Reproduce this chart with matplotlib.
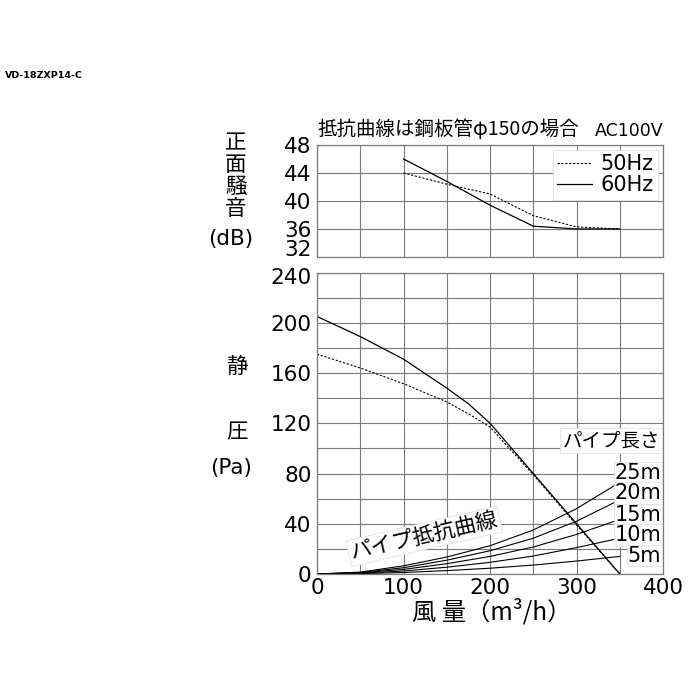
"""
Fan performance chart VD-18ZXP14-C: noise (top) and static pressure (bottom)
versus air volume, with pipe resistance curves.
"""

import matplotlib
matplotlib.use("Agg")
import matplotlib.pyplot as plt
from matplotlib.transforms import ScaledTranslation

plt.rcParams["font.family"] = ["DejaVu Sans", "Noto Sans CJK JP"]

# ── Data ─────────────────────────────────────────────────────────────────────
noise_x = [100, 150, 200, 250, 300, 350]
noise_50hz = [44.0, 42.4, 41.0, 37.9, 36.3, 36.0]
noise_60hz = [46.0, 42.8, 39.4, 36.4, 36.0, 36.0]

pq_x = [0, 50, 100, 150, 175, 200, 250, 300, 350]
pq_50hz = [175, 164, 151.5, 137, 127.5, 117, 79, 39, 0]
pq_60hz = [205, 189, 171, 148, 135.5, 120, 80, 40, 0]

pipe_x = [0, 50, 100, 150, 200, 250, 300, 350]
pipe_curves = {
    "25m": [0, 1.5, 6.5, 13.5, 22.5, 35, 52, 73],
    "20m": [0, 1.2, 5.0, 11.0, 18.5, 28.5, 42, 59],
    "15m": [0, 0.9, 3.7, 8.2, 14.0, 21.5, 31.5, 43.5],
    "10m": [0, 0.6, 2.4, 5.4, 9.3, 14.3, 21, 28.5],
    "5m": [0, 0.3, 1.2, 2.7, 4.6, 7.1, 10.3, 14],
}
pipe_label_y = {"25m": 80.5, "20m": 64.5, "15m": 47, "10m": 31, "5m": 14.6}

x_ticks = [0, 100, 200, 300, 400]
noise_ticks = [32, 36, 40, 44, 48]
pq_ticks = [0, 40, 80, 120, 160, 200, 240]

GRID = "#7a7a7a"
CJK = ["Noto Sans CJK JP", "DejaVu Sans"]
TICK_FS = 15.5


def style_axes(ax):
    for s in ax.spines.values():
        s.set_color(GRID)
        s.set_linewidth(0.9)
    ax.grid(True, color=GRID, linewidth=0.8)
    ax.set_axisbelow(True)
    ax.tick_params(length=0, labelsize=TICK_FS, pad=4)


def main() -> None:
    fig = plt.figure(figsize=(7, 7), dpi=100)

    # ── Top: noise ───────────────────────────────────────────────────────────
    ax_n = fig.add_axes([0.4529, 0.6329, 0.4943, 0.16])
    style_axes(ax_n)
    ax_n.plot(noise_x, noise_50hz, color="black", lw=0.8,
              linestyle=(0, (2, 1.5)), label="50Hz")
    ax_n.plot(noise_x, noise_60hz, color="black", lw=0.9, label="60Hz")
    ax_n.set_xlim(0, 400)
    ax_n.set_ylim(32, 48)
    ax_n.set_xticks(range(0, 401, 50))
    ax_n.set_xticklabels([])
    ax_n.set_yticks(noise_ticks)
    # lowest label sits a little higher so it clears the 240 below it
    ax_n.set_yticklabels([str(v) if v != noise_ticks[0] else "" for v in noise_ticks])
    lift = ScaledTranslation(-4 / 72, 7 / 100, fig.dpi_scale_trans)
    ax_n.text(0, noise_ticks[0], str(noise_ticks[0]), fontsize=TICK_FS,
              ha="right", va="center",
              transform=ax_n.get_yaxis_transform() + lift)

    leg = ax_n.legend(loc="upper right", fontsize=15, handlelength=1.7,
                      handletextpad=0.4, borderpad=0.2, labelspacing=0.05,
                      borderaxespad=0.25, fancybox=False, framealpha=1)
    leg.get_frame().set_edgecolor("#dddddd")
    leg.get_frame().set_linewidth(0.6)

    ax_n.text(0.0, 1.04, "抵抗曲線は鋼板管φ150の場合", transform=ax_n.transAxes,
              fontsize=14, ha="left", va="bottom", family=CJK)
    ax_n.text(1.0, 1.04, "AC100V", transform=ax_n.transAxes,
              fontsize=12.5, ha="right", va="bottom")

    # ── Bottom: static pressure ──────────────────────────────────────────────
    ax_p = fig.add_axes([0.4529, 0.18, 0.4943, 0.4307])
    style_axes(ax_p)
    ax_p.plot(pq_x, pq_50hz, color="black", lw=0.8, linestyle=(0, (2, 1.5)))
    ax_p.plot(pq_x, pq_60hz, color="black", lw=0.9)

    for name, vals in pipe_curves.items():
        ax_p.plot(pipe_x, vals, color="black", lw=0.8)
        ax_p.text(398, pipe_label_y[name], name, fontsize=15, ha="right",
                  va="center",
                  bbox=dict(facecolor="white", edgecolor="#dddddd",
                            linewidth=0.5, pad=0.5))

    ax_p.text(340, 106, "パイプ長さ", fontsize=14, ha="center", va="center",
              family=CJK,
              bbox=dict(facecolor="white", edgecolor="#dddddd",
                        linewidth=0.5, pad=1.5))
    ax_p.text(124, 30, "パイプ抵抗曲線", fontsize=15.5, ha="center",
              va="center", rotation=13, rotation_mode="anchor", family=CJK,
              bbox=dict(facecolor="white", edgecolor="#dddddd",
                        linewidth=0.5, pad=1.5))

    ax_p.set_xlim(0, 400)
    ax_p.set_ylim(0, 240)
    ax_p.set_xticks(range(0, 401, 50))
    ax_p.set_xticklabels([str(v) if v in x_ticks else "" for v in range(0, 401, 50)])
    ax_p.set_yticks(range(0, 241, 20))
    ax_p.set_yticklabels([str(v) if v in pq_ticks[:-1] else "" for v in range(0, 241, 20)])
    drop = ScaledTranslation(-4 / 72, -5 / 100, fig.dpi_scale_trans)
    ax_p.text(0, pq_ticks[-1], str(pq_ticks[-1]), fontsize=TICK_FS,
              ha="right", va="center",
              transform=ax_p.get_yaxis_transform() + drop)
    ax_p.tick_params(axis="x", pad=3)

    # ── Axis captions ────────────────────────────────────────────────────────
    for ch, ypx in zip("正面騒音", [143, 165, 187, 209]):
        fig.text(236 / 700, 1 - ypx / 700, ch, fontsize=15.5, ha="center",
                 va="center", family=CJK)
    fig.text(231 / 700, 1 - 239 / 700, "(dB)", fontsize=15.5, ha="center",
             va="center")
    fig.text(237 / 700, 1 - 367 / 700, "静", fontsize=15.5, ha="center",
             va="center", family=CJK)
    fig.text(237 / 700, 1 - 432 / 700, "圧", fontsize=15.5, ha="center",
             va="center", family=CJK)
    fig.text(231 / 700, 1 - 468 / 700, "(Pa)", fontsize=15.5, ha="center",
             va="center")
    fig.text(492 / 700, 1 - 612 / 700, "風 量（m³/h）", fontsize=17.5,
             ha="center", va="center", family=CJK)

    fig.text(5 / 700, 1 - 75 / 700, "VD-18ZXP14-C", fontsize=6.8,
             fontweight="bold", ha="left", va="center")

    fig.savefig("out.png", dpi=100)
    plt.close(fig)


if __name__ == "__main__":
    main()
